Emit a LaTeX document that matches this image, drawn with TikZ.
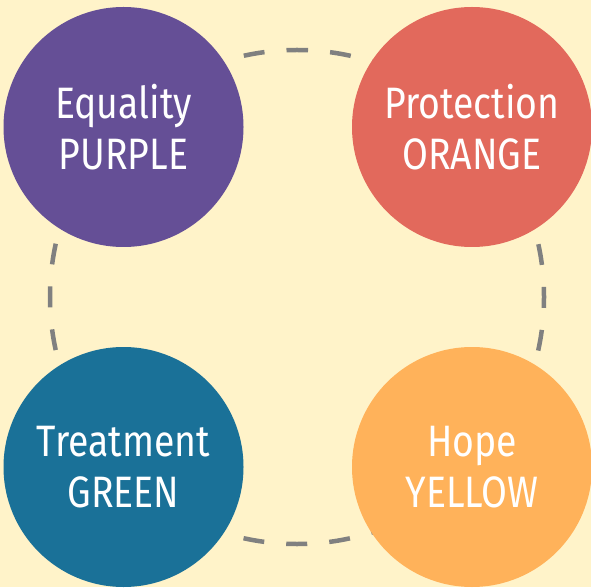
\documentclass[tikz,border=0pt]{standalone}
\usepackage{fontspec}
\setmainfont{Fira Sans}[FakeStretch=0.85]
\definecolor{bgc}{RGB}{255,243,201}
\definecolor{cpurple}{RGB}{101,79,150}
\definecolor{corange}{RGB}{226,105,92}
\definecolor{cteal}{RGB}{26,113,152}
\definecolor{cyellow}{RGB}{255,178,90}
\definecolor{cdash}{RGB}{128,128,128}
\begin{document}
\begin{tikzpicture}[x=1pt,y=1pt,
  blob/.style={circle,minimum size=240pt,inner sep=0pt,text=white,align=center,
    font=\fontsize{44}{51}\selectfont},
  ring/.style={draw=cdash,line width=4.5pt,dash pattern=on 21pt off 22.1pt,dash phase=10.5pt}]
\fill[bgc] (0,0) rectangle (591,587);
\useasboundingbox (0,0) rectangle (591,587);
\coordinate (ctr) at (297,290);
\draw[ring] (297,537) arc[start angle=90,end angle=450,radius=247];
\node[blob,fill=cpurple] (eq) at (123.5,460) {Equality\\PURPLE};
\node[blob,fill=corange] (pr) at (472,460) {Protection\\ORANGE};
\node[blob,fill=cteal] (tr) at (123.5,120) {Treatment\\GREEN};
\node[blob,fill=cyellow] (ho) at (472,120) {Hope\\YELLOW};
\end{tikzpicture}
\end{document}
